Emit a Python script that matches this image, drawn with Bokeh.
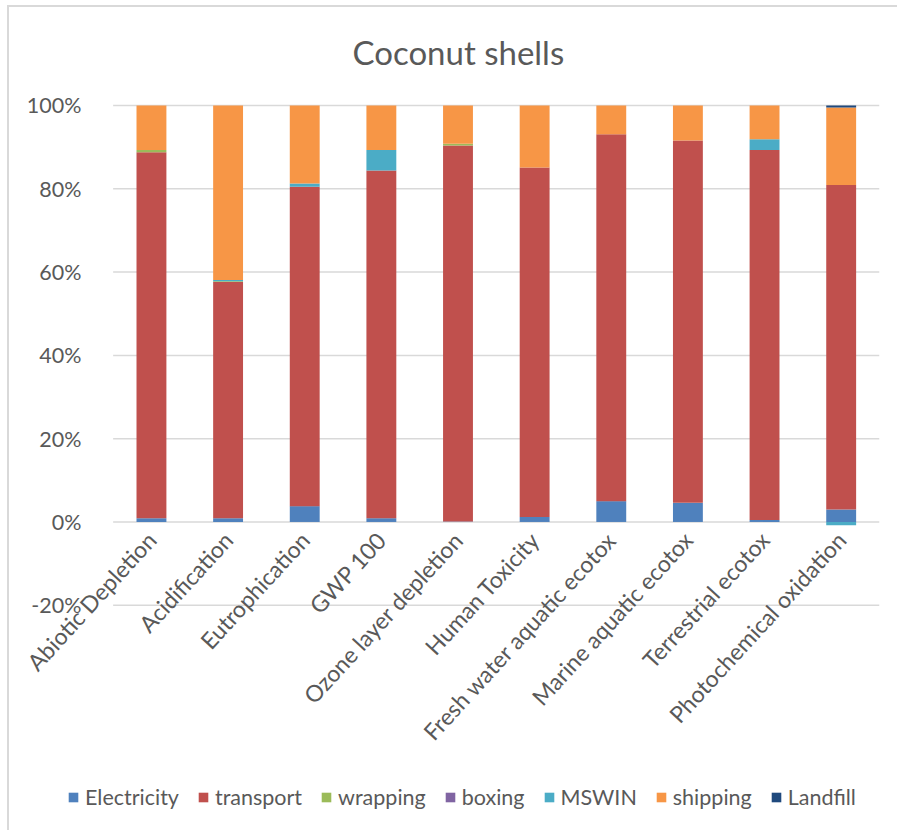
from math import pi
from bokeh.plotting import figure
from bokeh.models import (ColumnDataSource, Legend, LegendItem, PrintfTickFormatter,
                          FixedTicker, Range1d, FactorRange)
from bokeh.embed import file_html
from bokeh.resources import INLINE

categories = ["Abiotic Depletion", "Acidification", "Eutrophication", "GWP 100",
              "Ozone layer depletion", "Human Toxicity", "Fresh water aquatic ecotox",
              "Marine aquatic ecotox", "Terrestrial ecotox", "Photochemical oxidation"]
series = ["Electricity", "transport", "wrapping", "boxing", "MSWIN", "shipping", "Landfill"]

electricity = [0.9, 0.9, 3.8, 0.9, 0.1, 1.2, 5.0, 4.6, 0.5, 3.0]
transport   = [87.9, 56.7, 76.7, 83.5, 90.3, 83.9, 88.1, 87.0, 88.8, 77.9]
wrapping    = [0.5, 0.2, 0.0, 0.0, 0.4, 0.0, 0.0, 0.0, 0.0, 0.0]
boxing      = [0.0, 0.0, 0.0, 0.0, 0.0, 0.0, 0.0, 0.0, 0.0, 0.0]
mswin       = [0.0, 0.3, 0.8, 4.9, 0.0, 0.0, 0.0, 0.0, 2.6, -0.8]
shipping    = [10.7, 41.9, 18.7, 10.7, 9.2, 14.9, 6.9, 8.4, 8.1, 18.6]
landfill    = [0.0, 0.0, 0.0, 0.0, 0.0, 0.0, 0.0, 0.0, 0.0, 0.5]

colors = ["#4F81BD", "#C0504D", "#9BBB59", "#8064A2", "#4BACC6", "#F79646", "#1F497D"]
y_ticks = [-20, 0, 20, 40, 60, 80, 100]

values = dict(zip(series, [electricity, transport, wrapping, boxing, mswin, shipping, landfill]))
data = {"cat": categories}
for s in series:
    data[s + "_pos"] = [max(v, 0) for v in values[s]]
    data[s + "_neg"] = [min(v, 0) for v in values[s]]
src = ColumnDataSource(data)

# horizontal gridlines spanning only the category area
grid_src = ColumnDataSource({
    "x0": [(categories[0], -0.5)] * len(y_ticks),
    "x1": [(categories[-1], 0.5)] * len(y_ticks),
    "y": y_ticks,
})

FONT = "Lato"
GREY = "#595959"
GRID = "#d9d9d9"

# a blank leading factor leaves room inside the frame for the legend's left end
factors = [" "] + categories
p = figure(x_range=FactorRange(*factors), y_range=Range1d(-70, 102.64),
           width=890, height=825, output_backend="svg", toolbar_location=None,
           min_border_left=27, min_border_right=20, min_border_top=86, min_border_bottom=19,
           styles={"margin-left": "7px", "margin-top": "5px",
                   "border-left": "2px solid #d9d9d9", "border-top": "2px solid #d9d9d9"})

p.segment(x0="x0", y0="y", x1="x1", y1="y", source=grid_src,
          line_color=GRID, line_width=1.5, level="underlay")

rpos = p.vbar_stack([s + "_pos" for s in series], x="cat", width=0.39, color=colors,
                    line_color=None, source=src)
rneg = p.vbar_stack([s + "_neg" for s in series], x="cat", width=0.39, color=colors,
                    line_color=None, source=src)

p.outline_line_color = None
p.xgrid.visible = False
p.ygrid.visible = False

p.yaxis.ticker = FixedTicker(ticks=y_ticks)
p.yaxis.formatter = PrintfTickFormatter(format="%d%%")
p.yaxis.axis_line_color = None
p.yaxis.major_tick_line_color = None
p.yaxis.minor_tick_line_color = None
p.yaxis.major_label_standoff = -51
p.yaxis.major_label_text_font = FONT
p.yaxis.major_label_text_font_size = "21.5px"
p.yaxis.major_label_text_color = GREY

p.xaxis.axis_line_color = None
p.xaxis.major_tick_line_color = None
p.xaxis.minor_tick_line_color = None
p.xaxis.major_label_orientation = 47.5 * pi / 180
p.xaxis.major_label_standoff = -284
p.xaxis.major_label_text_font = FONT
p.xaxis.major_label_text_font_size = "23px"
p.xaxis.major_label_text_color = GREY

p.title.text = "Coconut shells"
p.title.align = "left"
p.title.offset = 316
p.title.standoff = 45
p.title.text_font = FONT
p.title.text_font_style = "normal"
p.title.text_font_size = "33px"
p.title.text_color = GREY

legend = Legend(items=[LegendItem(label=s, renderers=[r]) for s, r in zip(series, rpos)],
                orientation="horizontal", location=(31, 3),
                glyph_width=12, glyph_height=12, label_standoff=6, spacing=18,
                padding=0, margin=0, border_line_color=None, background_fill_alpha=0,
                label_text_font=FONT, label_text_font_size="21.5px", label_text_color=GREY)
p.add_layout(legend)

open("out.html", "w").write(file_html(p, INLINE))
